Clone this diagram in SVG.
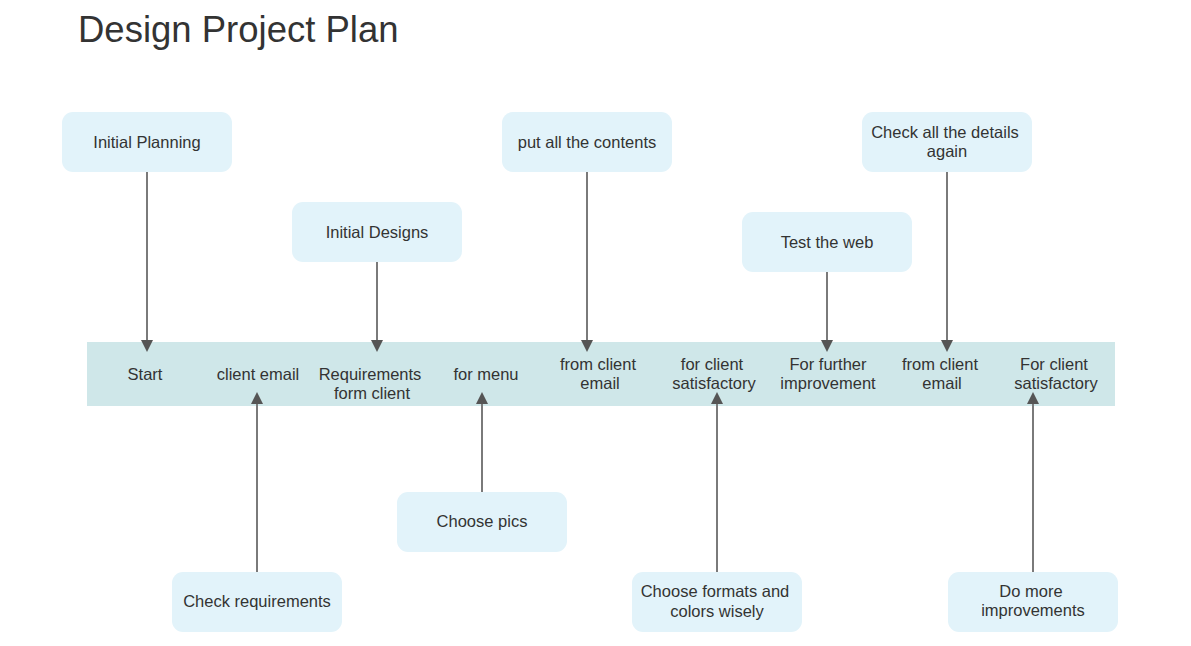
<svg xmlns="http://www.w3.org/2000/svg" width="1191" height="646" viewBox="0 0 1191 646">
<defs>
<style>
.node rect{fill:#e2f3fa;}
text{font-family:"Liberation Sans",Arial,sans-serif;fill:#333333;font-size:16.5px;text-anchor:middle;}
.title{font-size:36.5px;text-anchor:start;}
.conn line{stroke:#7a7a7a;stroke-width:2;}
.conn path{fill:#555555;}
</style>
</defs>
<rect width="1191" height="646" fill="#ffffff"/>
<text class="title" x="78" y="42">Design Project Plan</text>
<g id="band">
<rect x="87" y="342" width="1028" height="64" fill="#cfe7e9"/>
<text x="145" y="380">Start</text>
<text x="258" y="380">client email</text>
<text x="370" y="380">Requirements</text>
<text x="372" y="399">form client</text>
<text x="486" y="380">for menu</text>
<text x="598" y="370">from client</text>
<text x="600" y="389">email</text>
<text x="712" y="370">for client</text>
<text x="714" y="389">satisfactory</text>
<text x="828" y="370">For further</text>
<text x="828" y="389">improvement</text>
<text x="940" y="370">from client</text>
<text x="942" y="389">email</text>
<text x="1054" y="370">For client</text>
<text x="1056" y="389">satisfactory</text>
</g>
<g id="n1" class="node"><rect x="62" y="112" width="170" height="60" rx="11"/><text x="147" y="148">Initial Planning</text></g>
<g id="n2" class="node"><rect x="292" y="202" width="170" height="60" rx="11"/><text x="377" y="238">Initial Designs</text></g>
<g id="n3" class="node"><rect x="502" y="112" width="170" height="60" rx="11"/><text x="587" y="148">put all the contents</text></g>
<g id="n4" class="node"><rect x="742" y="212" width="170" height="60" rx="11"/><text x="827" y="248">Test the web</text></g>
<g id="n5" class="node"><rect x="862" y="112" width="170" height="60" rx="11"/><text x="945" y="138">Check all the details</text><text x="947" y="157">again</text></g>
<g id="n6" class="node"><rect x="172" y="572" width="170" height="60" rx="11"/><text x="257" y="607">Check requirements</text></g>
<g id="n7" class="node"><rect x="397" y="492" width="170" height="60" rx="11"/><text x="482" y="527">Choose pics</text></g>
<g id="n8" class="node"><rect x="632" y="572" width="170" height="60" rx="11"/><text x="715" y="597">Choose formats and</text><text x="717" y="617">colors wisely</text></g>
<g id="n9" class="node"><rect x="948" y="572" width="170" height="60" rx="11"/><text x="1031" y="597">Do more</text><text x="1033" y="616">improvements</text></g>
<g id="connectors" class="conn">
<line x1="147" y1="172" x2="147" y2="341"/><path d="M141 340 L153 340 L147 352 Z"/>
<line x1="377" y1="262" x2="377" y2="341"/><path d="M371 340 L383 340 L377 352 Z"/>
<line x1="587" y1="172" x2="587" y2="341"/><path d="M581 340 L593 340 L587 352 Z"/>
<line x1="827" y1="272" x2="827" y2="341"/><path d="M821 340 L833 340 L827 352 Z"/>
<line x1="947" y1="172" x2="947" y2="341"/><path d="M941 340 L953 340 L947 352 Z"/>
<line x1="257" y1="572" x2="257" y2="403"/><path d="M251 404 L263 404 L257 392 Z"/>
<line x1="482" y1="492" x2="482" y2="403"/><path d="M476 404 L488 404 L482 392 Z"/>
<line x1="717" y1="572" x2="717" y2="403"/><path d="M711 404 L723 404 L717 392 Z"/>
<line x1="1033" y1="572" x2="1033" y2="403"/><path d="M1027 404 L1039 404 L1033 392 Z"/>
</g>
</svg>
